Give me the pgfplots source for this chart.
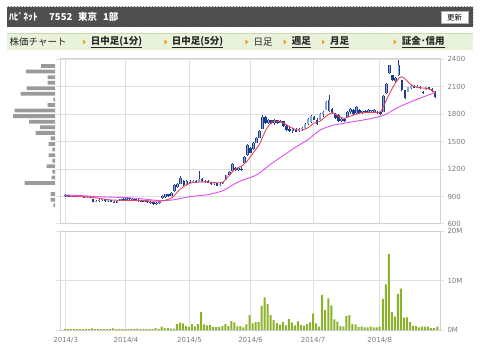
\documentclass[border=0pt]{standalone}
\usepackage{fontspec}
\setmainfont{DejaVu Sans}
\newfontfamily\cjk{Noto Sans CJK JP}
\usepackage{pgfplots}
\pgfplotsset{compat=1.18}
\usepackage{pgfplotstable}
\usetikzlibrary{patterns}

\definecolor{hdr}{HTML}{4A4A4A}
\definecolor{hdrs}{HTML}{5A5A5A}
\definecolor{tabbg}{HTML}{E9F2DA}
\definecolor{tabln}{HTML}{C8DAB0}
\definecolor{tri}{HTML}{F0A020}
\definecolor{gridc}{HTML}{E0E0E0}
\definecolor{framec}{HTML}{D2D2D2}
\definecolor{tickc}{HTML}{7A7A7A}
\definecolor{wick}{HTML}{1A3C8C}
\definecolor{upfill}{HTML}{8DA6D6}
\definecolor{dnfill}{HTML}{1E3C8E}
\definecolor{maA}{HTML}{E8455F}
\definecolor{maB}{HTML}{DD50EE}
\definecolor{volc}{HTML}{8CB22C}
\definecolor{profc}{HTML}{9A9A9A}

\pgfplotstableread{
i o h l c
0 905 930 895 915
2 900 910 890 905
4 900 910 892 908
7 893 905 885 900
10 845 860 835 855
11 855 870 845 862
12 862 875 850 868
14 850 865 840 860
17 830 860 828 855
18 855 875 850 870
20 862 885 858 880
22 870 882 860 876
24 855 868 845 862
26 845 860 838 855
28 835 848 820 842
30 822 840 805 832
31 832 850 822 845
32 880 915 875 905
33 895 930 885 922
35 910 945 905 935
36 955 1040 950 1025
37 1005 1045 995 1035
38 1040 1120 1035 1100
40 1040 1075 1030 1065
42 1055 1080 1045 1070
44 1062 1180 1055 1095
46 1065 1080 1050 1072
49 1040 1055 1030 1048
51 1022 1045 1010 1040
52 1040 1065 1035 1060
53 1080 1140 1075 1135
54 1135 1175 1125 1165
55 1175 1270 1170 1260
57 1190 1215 1175 1210
59 1265 1340 1255 1330
60 1355 1470 1345 1460
62 1420 1495 1410 1485
63 1485 1545 1480 1535
64 1540 1630 1535 1620
65 1640 1790 1640 1770
67 1700 1745 1695 1735
69 1700 1745 1685 1730
71 1705 1735 1700 1725
75 1615 1650 1590 1640
77 1610 1650 1600 1640
78 1640 1660 1620 1652
79 1650 1705 1640 1695
80 1690 1755 1680 1745
81 1710 1790 1700 1780
84 1740 1815 1730 1805
85 1800 1830 1770 1820
86 1845 1940 1840 1930
87 1830 2005 1820 1950
91 1725 1760 1715 1750
93 1770 1830 1765 1825
94 1820 1865 1800 1855
96 1810 1885 1805 1875
98 1810 1835 1805 1830
100 1815 1850 1810 1845
101 1830 1845 1810 1840
102 1825 1850 1815 1845
105 1825 2010 1820 2000
106 2025 2140 2020 2130
107 2245 2340 2240 2330
109 2155 2200 2145 2195
110 2225 2390 2215 2335
113 2045 2100 2040 2095
114 2080 2120 2075 2110
116 2085 2115 2080 2105
119 2065 2100 2060 2095
}\up

\pgfplotstableread{
i o h l c
1 915 920 895 900
3 905 912 895 900
5 908 915 898 900
6 900 908 888 893
8 900 905 880 885
9 870 875 835 845
13 868 870 845 850
15 858 862 835 840
16 840 850 825 830
19 870 880 855 862
21 880 888 865 870
23 872 878 850 855
25 860 865 840 845
27 852 856 830 835
29 842 845 810 822
34 922 928 900 910
39 1070 1080 1015 1025
41 1062 1075 1045 1055
43 1070 1078 1050 1058
45 1090 1100 1055 1065
47 1070 1075 1045 1050
48 1050 1060 1030 1040
50 1045 1050 1015 1020
56 1210 1225 1180 1190
58 1205 1220 1180 1195
61 1430 1440 1370 1380
66 1765 1775 1690 1700
68 1735 1740 1690 1700
70 1730 1740 1695 1705
72 1720 1728 1660 1665
73 1670 1690 1620 1630
74 1640 1665 1600 1610
76 1640 1648 1600 1605
82 1770 1775 1730 1740
83 1740 1760 1680 1690
88 1860 1870 1805 1810
89 1805 1810 1750 1760
90 1790 1795 1715 1720
92 1745 1755 1710 1720
95 1840 1850 1790 1800
97 1840 1850 1805 1810
99 1830 1840 1810 1815
103 1825 1830 1805 1810
104 1825 1830 1785 1795
108 2225 2230 2165 2175
111 2170 2175 2050 2060
112 2060 2065 1960 1975
115 2110 2118 2080 2085
117 2100 2110 2075 2080
118 2045 2050 2020 2030
120 2090 2100 2060 2070
121 2070 2080 2040 2050
122 2045 2050 1975 1990
}\down

\pgfplotstableread{
x v
-0.3 0.2
0.7 0.2
1.7 0.2
2.7 0.2
3.7 0.2
4.7 0.2
5.7 0.2
6.7 0.2
7.7 0.2
8.7 0.35
9.7 0.2
10.7 0.2
11.7 0.2
12.7 0.2
13.7 0.2
14.7 0.2
15.7 0.35
16.7 0.2
17.7 0.2
18.7 0.2
19.7 0.2
20.7 0.2
21.7 0.2
22.7 0.2
23.7 0.3
24.7 0.2
25.7 0.2
26.7 0.2
27.7 0.2
28.7 0.2
29.7 0.4
30.7 0.25
31.7 0.7
32.7 0.4
33.7 0.4
34.7 0.3
35.7 0.3
36.7 1.2
37.7 1.5
38.7 1.35
39.7 0.8
40.7 0.6
41.7 1.2
42.7 0.75
43.7 1.2
44.7 3.6
45.7 1.15
46.7 0.95
47.7 1.0
48.7 0.6
49.7 0.6
50.7 0.6
51.7 0.8
52.7 1.2
53.7 0.8
54.7 1.8
55.7 1.55
56.7 0.75
57.7 0.8
58.7 0.55
59.7 1.15
60.7 3.0
61.7 1.35
62.7 1.6
63.7 1.6
64.7 4.85
65.7 6.6
66.7 5.25
67.7 3.0
68.7 2.0
69.7 1.4
70.7 1.1
71.7 1.6
72.7 0.95
73.7 2.2
74.7 1.55
75.7 0.95
76.7 1.75
77.7 1.0
78.7 0.9
79.7 1.2
80.7 1.55
81.7 3.3
82.7 1.35
83.7 0.67
84.7 7.1
85.7 4.0
86.7 6.4
87.7 5.0
88.7 2.15
89.7 1.7
90.7 0.8
91.7 0.67
92.7 2.8
93.7 3.0
94.7 1.2
95.7 1.1
96.7 0.6
97.7 0.67
98.7 0.55
99.7 0.55
100.7 0.67
101.7 0.55
102.7 0.55
103.7 0.67
104.7 6.3
105.7 9.2
106.7 15.4
107.7 3.6
108.7 2.7
109.7 7.3
110.7 8.35
111.7 2.5
112.7 2.55
113.7 1.6
114.7 0.8
115.7 0.8
116.7 0.55
117.7 0.67
118.7 0.67
119.7 0.67
120.7 0.4
121.7 0.4
122.7 0.67
}\vol

\pgfplotsset{
  candle/.style 2 args={draw=none, mark=none, forget plot,
    error bars/.cd, y dir=plus, y explicit, error mark=none,
    error bar style={draw=#1, solid, line width=#2}},
}

\begin{document}
\begin{tikzpicture}
\useasboundingbox (0pt,0pt) rectangle (480pt,354pt);
\begin{scope}[x=1pt,y=1pt]
% header bar
\fill[hdr] (7,327.3) rectangle (473.3,347.3);
\fill[pattern=north east lines, pattern color=hdrs] (7,327.3) rectangle (473.3,347.3);
\begin{scope}[every node/.style={anchor=west, text=white, inner sep=0pt, font=\cjk\bfseries\fontsize{9.5}{10}\selectfont}]
\node at (9,337) {ﾊﾋﾟﾈｯﾄ};
\node at (49,337) {7552};
\node at (78,337) {東京};
\node at (103,337) {1部};
\end{scope}
\draw[fill=white, draw=gray!60] (441,331) rectangle (468,342.5);
\node[inner sep=0pt, font=\cjk\fontsize{7.5}{8}\selectfont] at (454.5,336.8) {更新};
% tab bar
\fill[tabbg] (7,304) rectangle (473.3,320.7);
\draw[tabln, line width=1.2pt] (7,320.7) -- (473.3,320.7);
\begin{scope}[every node/.style={anchor=west, text=black!85, inner sep=0pt, font=\cjk\fontsize{9.5}{10}\selectfont}]
\node at (9.5,312) {株価チャート};
\node[font=\cjk\bfseries\fontsize{9.5}{10}\selectfont] at (90.7,312) {\underline{日中足(1分)}};
\node[font=\cjk\bfseries\fontsize{9.5}{10}\selectfont] at (171.7,312) {\underline{日中足(5分)}};
\node at (253.3,312) {日足};
\node[font=\cjk\bfseries\fontsize{9.5}{10}\selectfont] at (291.7,312) {\underline{週足}};
\node[font=\cjk\bfseries\fontsize{9.5}{10}\selectfont] at (330,312) {\underline{月足}};
\node[font=\cjk\bfseries\fontsize{9.5}{10}\selectfont] at (401.7,312) {\underline{証金･信用}};
\end{scope}
\foreach \tx in {84.3,165.7,246.7,285,323.3,395}{
  \fill[tri] (\tx-1.3,314.5) -- (\tx+1.8,312) -- (\tx-1.3,309.5) -- cycle;
}
\end{scope}

% volume profile
\begin{axis}[at={(10pt,130pt)}, anchor=south west, scale only axis, width=45pt, height=166pt,
  xmin=0, xmax=45, ymin=600, ymax=2411, x dir=reverse, hide axis, clip=false]
\addplot[xbar, bar width=3.8pt, fill=profc, draw=none] coordinates {
(14,2324) (29,2263) (7.3,2202) (7.3,2142) (28.3,2081) (34.3,2020) (1.7,1959)
(7.3,1898) (40.3,1838) (42,1777) (26,1716) (15,1655) (19.3,1594) (4.3,1534)
(6.3,1473) (2.7,1412) (6.3,1351) (2.7,1290) (8.3,1230) (2.7,1169) (3.3,1108)
(30.3,1047) (4.3,926) (4.3,865) (1.7,804)};
\end{axis}

% price chart
\begin{axis}[at={(60pt,130pt)}, anchor=south west, scale only axis, width=380pt, height=166pt,
  xmin=-1.88, xmax=123.6, ymin=600, ymax=2411,
  axis line style={framec, line width=1pt},
  xtick={0,19.9,40.9,61.06,81.7,103.7}, xticklabels={,,,,,},
  ytick={600,900,1200,1500,1800,2100,2400},
  grid=major, major grid style={gridc, line width=1pt},
  yticklabel pos=right, tick align=outside, major tick length=4pt,
  xtick style={draw=none}, ytick style={gridc, line width=1pt},
  yticklabel style={font=\fontsize{7}{8}\selectfont, text=tickc},
  /pgf/number format/1000 sep={}, /pgf/number format/assume math mode=true,
  clip=true]
% wicks
\addplot[candle={wick}{0.7pt}] table[x=i, y=l, y error expr=\thisrow{h}-\thisrow{l}] {\up};
\addplot[candle={wick}{0.7pt}] table[x=i, y=l, y error expr=\thisrow{h}-\thisrow{l}] {\down};
% bodies
\addplot[candle={wick}{2.6pt}] table[x=i, y=o, y error expr=\thisrow{c}-\thisrow{o}] {\up};
\addplot[candle={upfill}{1.3pt}] table[x=i, y=o, y error expr=\thisrow{c}-\thisrow{o}] {\up};
\addplot[candle={dnfill}{2.6pt}] table[x=i, y=c, y error expr=\thisrow{o}-\thisrow{c}] {\down};
% moving averages
\addplot[maB, line width=0.9pt, smooth, tension=0.4, mark=none] coordinates {
(0,916) (5,910) (10,900) (15,893) (20,888) (25,875) (30,858) (33,856) (36,866)
(41,898) (47,920) (52,965) (57,1060) (63,1135) (68,1260) (72,1350) (76,1440)
(80,1520) (84,1625) (88,1675) (92,1700) (96,1722) (100,1745) (104,1775)
(106,1800) (109,1860) (113,1920) (118,1985) (122,2036)};
\addplot[maA, line width=0.9pt, smooth, tension=0.4, mark=none] coordinates {
(0,905) (5,900) (10,885) (15,862) (20,858) (25,858) (30,848) (32,852) (35,885)
(38,985) (41,1044) (44,1058) (47,1060) (50,1050) (52,1058) (54,1130) (56,1200)
(58,1230) (60,1290) (62,1380) (64,1470) (66,1620) (68,1710) (70,1722) (72,1700)
(74,1660) (76,1630) (78,1625) (80,1650) (82,1700) (84,1722) (86,1775) (88,1815)
(90,1778) (92,1752) (94,1775) (96,1800) (98,1815) (102,1818) (104,1825)
(106,1960) (108,2090) (110,2190) (111,2205) (112,2185) (114,2120) (116,2090)
(119,2080) (121,2062) (122,2025)};
\end{axis}

% volume chart
\begin{axis}[at={(60pt,24pt)}, anchor=south west, scale only axis, width=380pt, height=99pt,
  xmin=-1.88, xmax=123.6, ymin=0, ymax=20,
  axis line style={framec, line width=1pt},
  xtick={0,19.9,40.9,61.06,81.7,103.7},
  xticklabels={2014/3,2014/4,2014/5,2014/6,2014/7,2014/8},
  ytick={0,10,20}, yticklabels={0M,10M,20M},
  grid=major, major grid style={gridc, line width=1pt},
  yticklabel pos=right, tick align=outside, major tick length=4pt,
  xtick style={draw=none}, ytick style={gridc, line width=1pt},
  ticklabel style={font=\fontsize{7}{8}\selectfont, text=tickc},
  /pgf/number format/assume math mode=true]
\addplot[ybar, bar width=2pt, fill=volc, draw=none] table[x=x, y=v] {\vol};
\end{axis}
\end{tikzpicture}
\end{document}
